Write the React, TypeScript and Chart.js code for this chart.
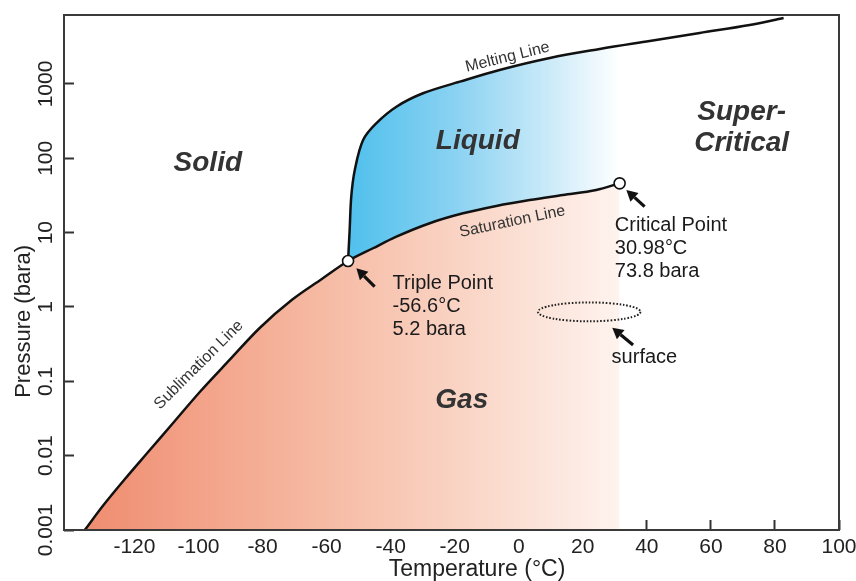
import React, { useEffect, useRef } from 'react';
import { Chart, registerables } from 'chart.js';

Chart.register(...registerables);

// ---------- data (°C, bara) ----------
const xTicks = [-120, -100, -80, -60, -40, -20, 0, 20, 40, 60, 80, 100];
const yTicks = [0.001, 0.01, 0.1, 1, 10, 100, 1000];

const sublimationT = [-135.5, -129.9, -122.7, -115.2, -107.4, -99.6, -90.3, -80.9, -70.9, -61.5, -53.3];
const sublimationP = [0.001, 0.0021, 0.00501, 0.0119, 0.0293, 0.0719, 0.194, 0.522, 1.24, 2.38, 4.16];

const saturationT = [-53.3, -45.5, -38.2, -27.8, -17.4, -7.0, 3.4, 13.8, 24.2, 31.5];
const saturationP = [4.16, 6.17, 8.83, 13.4, 18.2, 22.9, 27.5, 32.1, 37.5, 46.1];

const meltingT = [-53.3, -52.8, -52.3, -51.2, -48.6, -44.5, -38.2, -29.9, -18.4, -6.0, 9.7, 25.3, 40.9, 56.5, 72.1, 82.7];
const meltingP = [4.16, 10.9, 30.5, 69.7, 176.6, 296, 495, 750, 1075, 1545, 2239, 2958, 3793, 4857, 6223, 7727];

const pointNames = ['Triple Point', 'Critical Point'];
const pointT = [-53.3, 31.5];
const pointP = [4.16, 46.1];

// ---------- annotations (data coordinates) ----------
const regionNames = ['Solid', 'Liquid', 'Super-', 'Critical', 'Gas'];
const regionT = [-97.1, -12.8, 69.6, 69.6, -17.8];
const regionP = [86.5, 171, 420, 161, 0.0561];

const lineLabelNames = ['Melting Line', 'Saturation Line', 'Sublimation Line'];
const lineLabelT = [-3.5, -2.0, -99.9];
const lineLabelP = [2290, 14.1, 0.166];
const lineLabelAngle = [-13.8, -11.8, -45];

const noteLines = [
  ['Triple Point', '-56.6°C', '5.2 bara'],
  ['Critical Point', '30.98°C', '73.8 bara'],
  ['surface'],
];
const noteT = [-39.4, 30.0, 29.0];
const noteP = [2.04, 12.3, 0.212];

// arrows: tail -> tip
const arrowTailT = [-45.0, 39.3, 35.7];
const arrowTailP = [1.88, 22.4, 0.308];
const arrowTipT = [-50.7, 33.6, 29.2];
const arrowTipP = [3.32, 37.5, 0.527];

// surface ellipse
const ellipseT = [6, 22, 38];
const ellipseP = [0.63, 0.86, 1.13];

const SANS = "'Liberation Sans', Arial, Helvetica, sans-serif";

const toXY = (ts: number[], ps: number[]) => ts.map((t, i) => ({ x: t, y: ps[i] }));

function hGradient(chart: any, t0: number, t1: number, stops: [number, string][]) {
  const xs = chart.scales?.x;
  if (!chart.chartArea || !xs) return stops[0][1];
  const g = chart.ctx.createLinearGradient(xs.getPixelForValue(t0), 0, xs.getPixelForValue(t1), 0);
  stops.forEach(([o, c]) => g.addColorStop(o, c));
  return g;
}

const annotationPlugin = {
  id: 'phaseAnnotations',
  afterDatasetsDraw(chart: any) {
    const { ctx, scales } = chart;
    const xs = scales.x;
    const ys = scales.y;
    const px = (t: number) => xs.getPixelForValue(t);
    const py = (p: number) => ys.getPixelForValue(p);
    ctx.save();

    // region names
    ctx.fillStyle = '#333333';
    ctx.textAlign = 'center';
    ctx.textBaseline = 'middle';
    ctx.font = `italic bold 28px ${SANS}`;
    regionNames.forEach((n, i) => ctx.fillText(n, px(regionT[i]), py(regionP[i])));

    // line names
    ctx.font = `16px ${SANS}`;
    ctx.fillStyle = '#333333';
    lineLabelNames.forEach((n, i) => {
      ctx.save();
      ctx.translate(px(lineLabelT[i]), py(lineLabelP[i]));
      ctx.rotate((lineLabelAngle[i] * Math.PI) / 180);
      ctx.fillText(n, 0, 0);
      ctx.restore();
    });

    // notes
    ctx.font = `20px ${SANS}`;
    ctx.fillStyle = '#1a1a1a';
    ctx.textAlign = 'left';
    noteLines.forEach((lines, i) => {
      lines.forEach((l, j) => ctx.fillText(l, px(noteT[i]), py(noteP[i]) + j * 23));
    });

    // arrows
    ctx.strokeStyle = '#111';
    ctx.fillStyle = '#111';
    arrowTailT.forEach((_, i) => {
      const x0 = px(arrowTailT[i]);
      const y0 = py(arrowTailP[i]);
      const x1 = px(arrowTipT[i]);
      const y1 = py(arrowTipP[i]);
      const a = Math.atan2(y1 - y0, x1 - x0);
      const hl = 11;
      const hw = 6;
      const bx = x1 - hl * Math.cos(a);
      const by = y1 - hl * Math.sin(a);
      ctx.lineWidth = 3.2;
      ctx.beginPath();
      ctx.moveTo(x0, y0);
      ctx.lineTo(bx, by);
      ctx.stroke();
      ctx.beginPath();
      ctx.moveTo(x1, y1);
      ctx.lineTo(bx + hw * Math.sin(a), by - hw * Math.cos(a));
      ctx.lineTo(bx - hw * Math.sin(a), by + hw * Math.cos(a));
      ctx.closePath();
      ctx.fill();
    });

    // dotted ellipse
    const cx = px(ellipseT[1]);
    const cy = py(ellipseP[1]);
    const rx = (px(ellipseT[2]) - px(ellipseT[0])) / 2;
    const ry = (py(ellipseP[0]) - py(ellipseP[2])) / 2;
    ctx.setLineDash([1.6, 1.8]);
    ctx.lineWidth = 2;
    ctx.strokeStyle = '#222';
    ctx.beginPath();
    ctx.ellipse(cx, cy, rx, ry, 0, 0, Math.PI * 2);
    ctx.stroke();
    ctx.setLineDash([]);
    ctx.restore();
  },
  afterDraw(chart: any) {
    const { ctx, chartArea: a } = chart;
    ctx.save();
    ctx.strokeStyle = '#3a3a3a';
    ctx.lineWidth = 2;
    ctx.strokeRect(a.left, a.top, a.right - a.left, a.bottom - a.top);
    ctx.restore();
  },
};

export default function App() {
  const ref = useRef<HTMLCanvasElement>(null);
  useEffect(() => {
    const canvas = ref.current;
    if (!canvas) return;
    const gasT = [...sublimationT, ...saturationT.slice(1)];
    const gasP = [...sublimationP, ...saturationP.slice(1)];
    const chart = new Chart(canvas, {
      type: 'line',
      data: {
        datasets: [
          {
            label: 'Sublimation / Saturation',
            data: toXY(gasT, gasP),
            borderColor: '#111',
            borderWidth: 2.5,
            pointRadius: 0,
            cubicInterpolationMode: 'monotone',
            fill: 'start',
            backgroundColor: (c: any) =>
              hGradient(c.chart, -140, 31.5, [
                [0, '#EF8A6D'],
                [0.45, '#F6B9A2'],
                [0.75, '#FAD8CA'],
                [1, '#FEF3EE'],
              ]),
          } as any,
          {
            label: 'Melting',
            data: toXY(meltingT, meltingP),
            borderColor: '#111',
            borderWidth: 2.5,
            pointRadius: 0,
            tension: 0.35,
            fill: 0,
            backgroundColor: (c: any) =>
              hGradient(c.chart, -53.3, 31.5, [
                [0, '#4FC0EC'],
                [0.4, '#8BD2F2'],
                [0.75, '#CDEBF9'],
                [1, '#FFFFFF'],
              ]),
          } as any,
          {
            label: pointNames.join(' / '),
            data: toXY(pointT, pointP),
            showLine: false,
            pointRadius: 5.5,
            pointBackgroundColor: '#ffffff',
            pointBorderColor: '#111',
            pointBorderWidth: 1.6,
            order: -1,
          } as any,
        ],
      },
      options: {
        responsive: false,
        animation: false,
        devicePixelRatio: 1,
        layout: { padding: { left: 0, right: 17, top: 15, bottom: 0 }, autoPadding: false },
        plugins: { legend: { display: false }, tooltip: { enabled: false } },
        scales: {
          x: {
            type: 'linear',
            min: -142,
            max: 100,
            z: 1,
            afterBuildTicks: (s: any) => {
              s.ticks = xTicks.map((v) => ({ value: v }));
            },
            afterFit: (s: any) => {
              s.height = 51;
              s.paddingLeft = 0;
              s.paddingRight = 0;
            },
            grid: { display: true, drawOnChartArea: false, drawTicks: true, tickLength: -10, tickWidth: 2, tickColor: '#333' },
            border: { display: false },
            ticks: {
              autoSkip: false,
              maxRotation: 0,
              padding: 15,
              color: '#222',
              font: { family: SANS, size: 21 },
              callback: (v: any) => String(v),
            },
            title: {
              display: true,
              text: '        Temperature (°C)',
              color: '#222',
              font: { family: SANS, size: 23, lineHeight: 1 },
              padding: { top: 0, bottom: 0 },
            },
          },
          y: {
            type: 'logarithmic',
            min: 0.001,
            max: 8475,
            z: 1,
            afterBuildTicks: (s: any) => {
              s.ticks = yTicks.map((v) => ({ value: v }));
            },
            afterFit: (s: any) => {
              s.width = 64;
              s.paddingTop = 0;
              s.paddingBottom = 0;
            },
            grid: { display: true, drawOnChartArea: false, drawTicks: true, tickLength: -10, tickWidth: 2, tickColor: '#333' },
            border: { display: false },
            ticks: {
              autoSkip: false,
              minRotation: 90,
              maxRotation: 90,
              crossAlign: 'center',
              padding: 2,
              color: '#222',
              font: { family: SANS, size: 21 },
              callback: (v: any) => String(v),
            },
            title: {
              display: true,
              text: 'Pressure (bara)                ',
              color: '#222',
              font: { family: SANS, size: 22, lineHeight: 1 },
              padding: { top: 13, bottom: 0 },
            },
          },
        },
      } as any,
      plugins: [annotationPlugin],
    });
    return () => chart.destroy();
  }, []);
  return (
    <div style={{ position: 'fixed', left: 0, top: 0, width: 856, height: 581, background: '#ffffff' }}>
      <canvas ref={ref} width={856} height={581} style={{ display: 'block' }} />
    </div>
  );
}
